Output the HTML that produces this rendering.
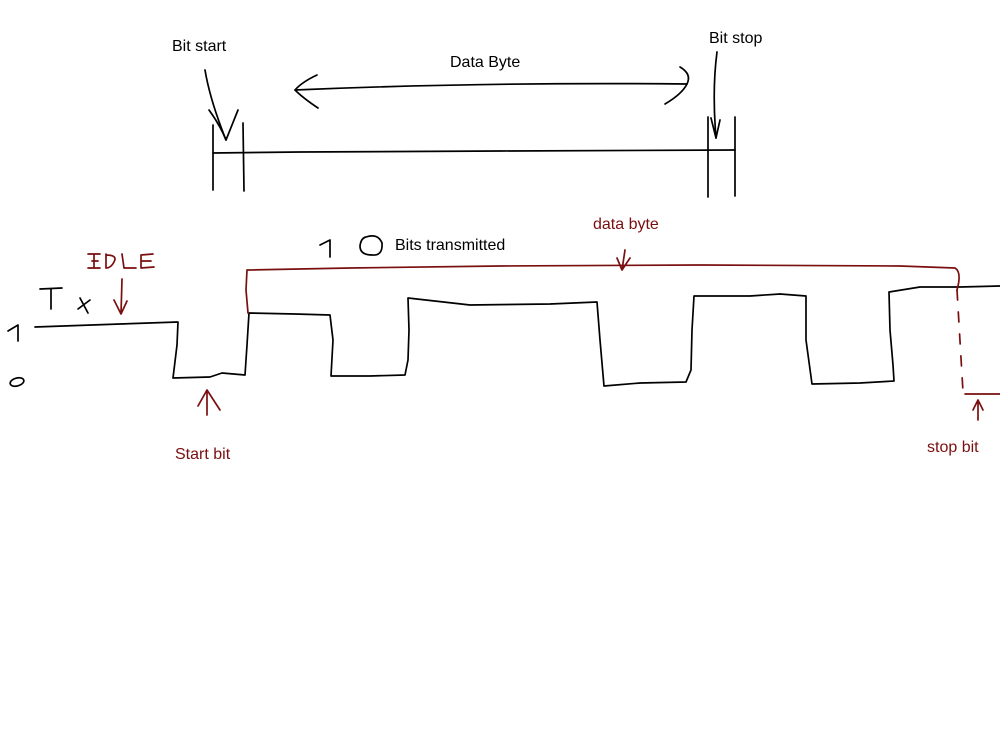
<!DOCTYPE html>
<html><head><meta charset="utf-8"><style>
html,body{margin:0;padding:0;background:#fff;}
svg{display:block}
text{font-family:"Liberation Sans",sans-serif;font-size:16px}
</style></head><body>
<svg width="1000" height="750" viewBox="0 0 1000 750" xmlns="http://www.w3.org/2000/svg">
<g fill="none" stroke="#000" stroke-width="1.7" stroke-linecap="round" stroke-linejoin="round">
<!-- top diagram -->
<line x1="213" y1="125" x2="213" y2="190"/>
<line x1="243" y1="123" x2="244" y2="191"/>
<line x1="708" y1="117" x2="708" y2="197"/>
<line x1="735" y1="117" x2="735" y2="196"/>
<path d="M213 153 L300 152 L500 151 L735 150"/>
<path d="M295 90 Q480 82 687 84"/>
<path d="M317 75 Q302 82 295 90 Q303 98 318 108"/>
<path d="M680 67 Q692 74 687 84 Q682 94 665 104"/>
<path d="M205 70 Q210 100 226 140"/>
<path d="M209 110 Q220 125 226 140 Q232 125 238 110"/>
<path d="M717 52 Q712 90 716 138"/>
<path d="M711 118 L716 138 L720 120"/>
<!-- Tx label -->
<path d="M40 289 L62 288 M51 289 L51 309"/>
<path d="M80 298 L88 313 M90 300 L78 309"/>
<path d="M8 331 L18 325 L18 341"/>
<ellipse cx="17" cy="382" rx="7" ry="4" transform="rotate(-15 17 382)"/>
<path d="M320 245 L330 240 L330 257"/>
<path d="M366 237 Q378 233 382 243 Q383 256 372 255 Q360 255 360 246 Q361 238 366 237Z"/>
<!-- waveform -->
<path d="M35 327 L120 324 L178 322 L177 345 L173 378 L210 377 L222 373 L245 375 L247 345 L249 313 L295 314 L330 315 L333 340 L331 376 L370 376 L405 375 L408 360 L409 330 L408 298 L470 305 L550 304 L597 302 L600 340 L604 386 L640 383 L686 382 L691 370 L692 330 L694 296 L750 296 L780 294 L806 296 L806 340 L812 384 L860 383 L894 381 L893 365 L890 330 L889 292 L920 287 L960 287 L1000 286"/>
</g>
<g fill="none" stroke="#7a0f0f" stroke-width="1.7" stroke-linecap="round" stroke-linejoin="round">
<!-- IDLE -->
<path d="M88 254 L100 254 M94 254 L94 268 M88 268 L100 268 M92 261 L98 261"/>
<path d="M106 254 L106 268 M106 255 Q118 255 114 262 Q111 268 106 268"/>
<path d="M122 254 L124 268 L136 268"/>
<path d="M141 255 L153 254 M141 255 L141 268 L154 267 M141 261 L151 261"/>
<path d="M122 279 L121 314 M114 300 L121 314 L127 301"/>
<!-- start bit arrow -->
<path d="M207 415 L207 390 M198 406 L207 390 L220 410"/>
<!-- data byte frame -->
<path d="M248 313 L246 290 L247 270 L350 268 L500 266 L700 265 L900 266 L955 268 Q962 272 957 290"/>
<path d="M625 250 L622 270 M617 258 L622 270 L630 258"/>
<path d="M957 290 L963 392" stroke-dasharray="10 12"/>
<path d="M965 394 L1000 394"/>
<path d="M978 420 L978 400 M973 410 L978 400 L983 410"/>
</g>
<text x="172" y="51" fill="#000">Bit start</text>
<text x="709" y="43" fill="#000">Bit stop</text>
<text x="450" y="67" fill="#000">Data Byte</text>
<text x="395" y="250" fill="#000">Bits transmitted</text>
<text x="593" y="229" fill="#7a0f0f">data byte</text>
<text x="175" y="459" fill="#7a0f0f">Start bit</text>
<text x="927" y="452" fill="#7a0f0f">stop bit</text>
</svg>
</body></html>
